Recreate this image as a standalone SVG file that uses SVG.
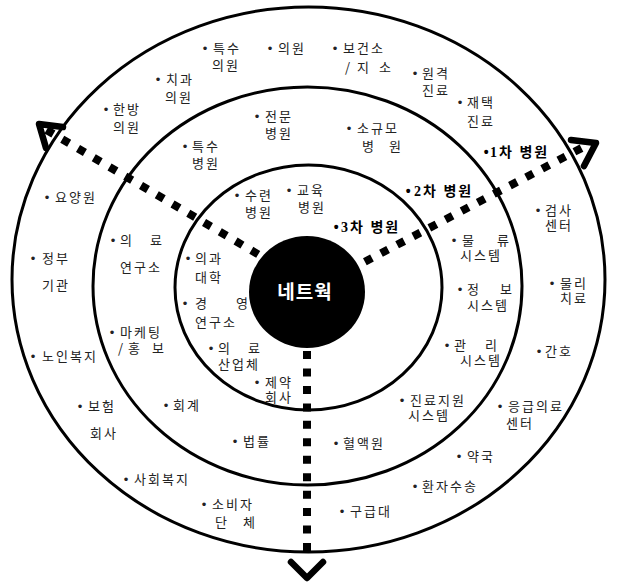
<svg xmlns="http://www.w3.org/2000/svg" width="617" height="585" viewBox="0 0 617 585">
<style>
.ring{fill:none;stroke:#000;stroke-width:3}
.dot{fill:none;stroke:#000;stroke-width:8;stroke-linecap:butt}
.arr{fill:none;stroke:#000;stroke-width:6.5;stroke-linejoin:round;stroke-linecap:round}
.t{font-family:"Noto Sans CJK KR","Noto Sans",sans-serif;font-size:13px;fill:#222;letter-spacing:2px}
.d{font-family:"Liberation Sans",sans-serif;letter-spacing:0}
.b{font-family:"Liberation Serif","Noto Sans CJK KR",serif;font-size:14px;font-weight:bold;fill:#000;letter-spacing:2px}
.c{font-family:"Noto Sans CJK KR",sans-serif;font-size:19px;font-weight:bold;fill:#fff;letter-spacing:1px}
</style>
<rect width="617" height="585" fill="#fff"/>
<g id="rings">
<ellipse class="ring" cx="308.5" cy="279.5" rx="296.5" ry="272.5"/>
<ellipse class="ring" cx="307.5" cy="286" rx="214.5" ry="199"/>
<ellipse class="ring" cx="308.5" cy="287.5" rx="133.5" ry="122.5"/>
</g>
<g id="connectors">
<line class="dot" x1="46.5" y1="130" x2="290" y2="273" stroke-dasharray="8 10.27"/>
<line class="dot" x1="581.5" y1="148.1" x2="330" y2="280" stroke-dasharray="8 10.2"/>
<line class="dot" x1="307" y1="551" x2="307" y2="300" stroke-dasharray="8 9.45"/>
<polyline class="arr" points="63,127 39,124 46,148"/>
<polyline class="arr" points="571,140 596,143 584,166"/>
<polyline class="arr" points="291,562 307,578 323,562"/>
</g>
<g id="network">
<ellipse cx="307" cy="292" rx="58" ry="56" fill="#000"/>
<text class="c" x="305" y="299" text-anchor="middle">네트웍</text>
</g>
<g id="n1"><text class="t"><tspan class="d" x="202.7" y="53">•</tspan><tspan x="213" y="53">특수</tspan><tspan x="212" y="70">의원</tspan></text></g>
<g id="n2"><text class="t"><tspan class="d" x="267.7" y="53">•</tspan><tspan x="278" y="53">의원</tspan></text></g>
<g id="n3"><text class="t"><tspan class="d" x="332.7" y="53">•</tspan><tspan x="343" y="53">보건소</tspan><tspan x="345" y="72">/</tspan><tspan x="357" y="72">지</tspan><tspan x="379" y="72">소</tspan></text></g>
<g id="n4"><text class="t"><tspan class="d" x="412.7" y="78">•</tspan><tspan x="422" y="78">원격</tspan><tspan x="422" y="95">진료</tspan></text></g>
<g id="n5"><text class="t"><tspan class="d" x="457.7" y="107">•</tspan><tspan x="467" y="107">재택</tspan><tspan x="467" y="126">진료</tspan></text></g>
<g id="n6"><text class="t"><tspan class="d" x="155.7" y="84">•</tspan><tspan x="166" y="84">치과</tspan><tspan x="165" y="102">의원</tspan></text></g>
<g id="n7"><text class="t"><tspan class="d" x="103.7" y="114">•</tspan><tspan x="113" y="114">한방</tspan><tspan x="113" y="132">의원</tspan></text></g>
<g id="n8"><text class="t"><tspan class="d" x="254.7" y="121">•</tspan><tspan x="265" y="121">전문</tspan><tspan x="265" y="138">병원</tspan></text></g>
<g id="n9"><text class="t"><tspan class="d" x="346.7" y="133">•</tspan><tspan x="357" y="133">소규모</tspan><tspan x="362" y="151">병</tspan><tspan x="389" y="151">원</tspan></text></g>
<g id="n10"><text class="t"><tspan class="d" x="182.7" y="151">•</tspan><tspan x="192" y="151">특수</tspan><tspan x="192" y="168">병원</tspan></text></g>
<g id="n11"><text class="b"><tspan class="d" x="483.7" y="157">•</tspan><tspan x="490" y="157">1차 병원</tspan></text></g>
<g id="n12"><text class="b"><tspan class="d" x="405.7" y="196">•</tspan><tspan x="414" y="196">2차 병원</tspan></text></g>
<g id="n13"><text class="t"><tspan class="d" x="44.7" y="202">•</tspan><tspan x="55" y="202">요양원</tspan></text></g>
<g id="n14"><text class="t"><tspan class="d" x="234.7" y="200">•</tspan><tspan x="245" y="200">수련</tspan><tspan x="245" y="217">병원</tspan></text></g>
<g id="n15"><text class="t"><tspan class="d" x="286.7" y="195">•</tspan><tspan x="297" y="195">교육</tspan><tspan x="298" y="212">병원</tspan></text></g>
<g id="n16"><text class="b"><tspan class="d" x="333.7" y="232">•</tspan><tspan x="341" y="232">3차 병원</tspan></text></g>
<g id="n17"><text class="t"><tspan class="d" x="110.7" y="245">•</tspan><tspan x="120" y="245">의</tspan><tspan x="150" y="245">료</tspan><tspan x="120" y="272">연구소</tspan></text></g>
<g id="n18"><text class="t"><tspan class="d" x="30.7" y="263">•</tspan><tspan x="42" y="263">정부</tspan><tspan x="42" y="290">기관</tspan></text></g>
<g id="n19"><text class="t"><tspan class="d" x="185.7" y="263">•</tspan><tspan x="195" y="263">의과</tspan><tspan x="195" y="282">대학</tspan></text></g>
<g id="n20"><text class="t"><tspan class="d" x="182.7" y="308">•</tspan><tspan x="195" y="308">경</tspan><tspan x="236" y="308">영</tspan><tspan x="195" y="327">연구소</tspan></text></g>
<g id="n21"><text class="t"><tspan class="d" x="109.7" y="337">•</tspan><tspan x="120" y="337">마케팅</tspan><tspan x="118" y="353">/</tspan><tspan x="128" y="353">홍</tspan><tspan x="152" y="353">보</tspan></text></g>
<g id="n22"><text class="t"><tspan class="d" x="30.7" y="361">•</tspan><tspan x="42" y="361">노인복지</tspan></text></g>
<g id="n23"><text class="t"><tspan class="d" x="208.7" y="353">•</tspan><tspan x="218" y="353">의</tspan><tspan x="248" y="353">료</tspan><tspan x="218" y="369">산업체</tspan></text></g>
<g id="n24"><text class="t"><tspan class="d" x="254.7" y="387">•</tspan><tspan x="265" y="387">제약</tspan><tspan x="265" y="402">회사</tspan></text></g>
<g id="n25"><text class="t"><tspan class="d" x="535.7" y="215">•</tspan><tspan x="545" y="215">검사</tspan><tspan x="545" y="230">센터</tspan></text></g>
<g id="n26"><text class="t"><tspan class="d" x="451.7" y="245">•</tspan><tspan x="462" y="245">물</tspan><tspan x="497" y="245">류</tspan><tspan x="460" y="260">시스템</tspan></text></g>
<g id="n27"><text class="t"><tspan class="d" x="549.7" y="288">•</tspan><tspan x="560" y="288">물리</tspan><tspan x="560" y="303">치료</tspan></text></g>
<g id="n28"><text class="t"><tspan class="d" x="457.7" y="294">•</tspan><tspan x="467" y="294">정</tspan><tspan x="500" y="294">보</tspan><tspan x="467" y="310">시스템</tspan></text></g>
<g id="n29"><text class="t"><tspan class="d" x="444.7" y="350">•</tspan><tspan x="454" y="350">관</tspan><tspan x="485" y="350">리</tspan><tspan x="460" y="365">시스템</tspan></text></g>
<g id="n30"><text class="t"><tspan class="d" x="536.7" y="356">•</tspan><tspan x="545" y="356">간호</tspan></text></g>
<g id="n31"><text class="t"><tspan class="d" x="77.7" y="411">•</tspan><tspan x="88" y="411">보험</tspan><tspan x="90" y="438">회사</tspan></text></g>
<g id="n32"><text class="t"><tspan class="d" x="163.7" y="410">•</tspan><tspan x="173" y="410">회계</tspan></text></g>
<g id="n33"><text class="t"><tspan class="d" x="232.7" y="446">•</tspan><tspan x="243" y="446">법률</tspan></text></g>
<g id="n34"><text class="t"><tspan class="d" x="123.7" y="484">•</tspan><tspan x="134" y="484">사회복지</tspan></text></g>
<g id="n35"><text class="t"><tspan class="d" x="201.7" y="509">•</tspan><tspan x="212" y="509">소비자</tspan><tspan x="215" y="527">단</tspan><tspan x="243" y="527">체</tspan></text></g>
<g id="n36"><text class="t"><tspan class="d" x="399.7" y="405">•</tspan><tspan x="410" y="405">진료지원</tspan><tspan x="408" y="420">시스템</tspan></text></g>
<g id="n37"><text class="t"><tspan class="d" x="497.7" y="411">•</tspan><tspan x="508" y="411">응급의료</tspan><tspan x="506" y="428">센터</tspan></text></g>
<g id="n38"><text class="t"><tspan class="d" x="333.7" y="448">•</tspan><tspan x="343" y="448">혈액원</tspan></text></g>
<g id="n39"><text class="t"><tspan class="d" x="456.7" y="461">•</tspan><tspan x="467" y="461">약국</tspan></text></g>
<g id="n40"><text class="t"><tspan class="d" x="412.7" y="491">•</tspan><tspan x="422" y="491">환자수송</tspan></text></g>
<g id="n41"><text class="t"><tspan class="d" x="339.7" y="516">•</tspan><tspan x="350" y="516">구급대</tspan></text></g>
</svg>
